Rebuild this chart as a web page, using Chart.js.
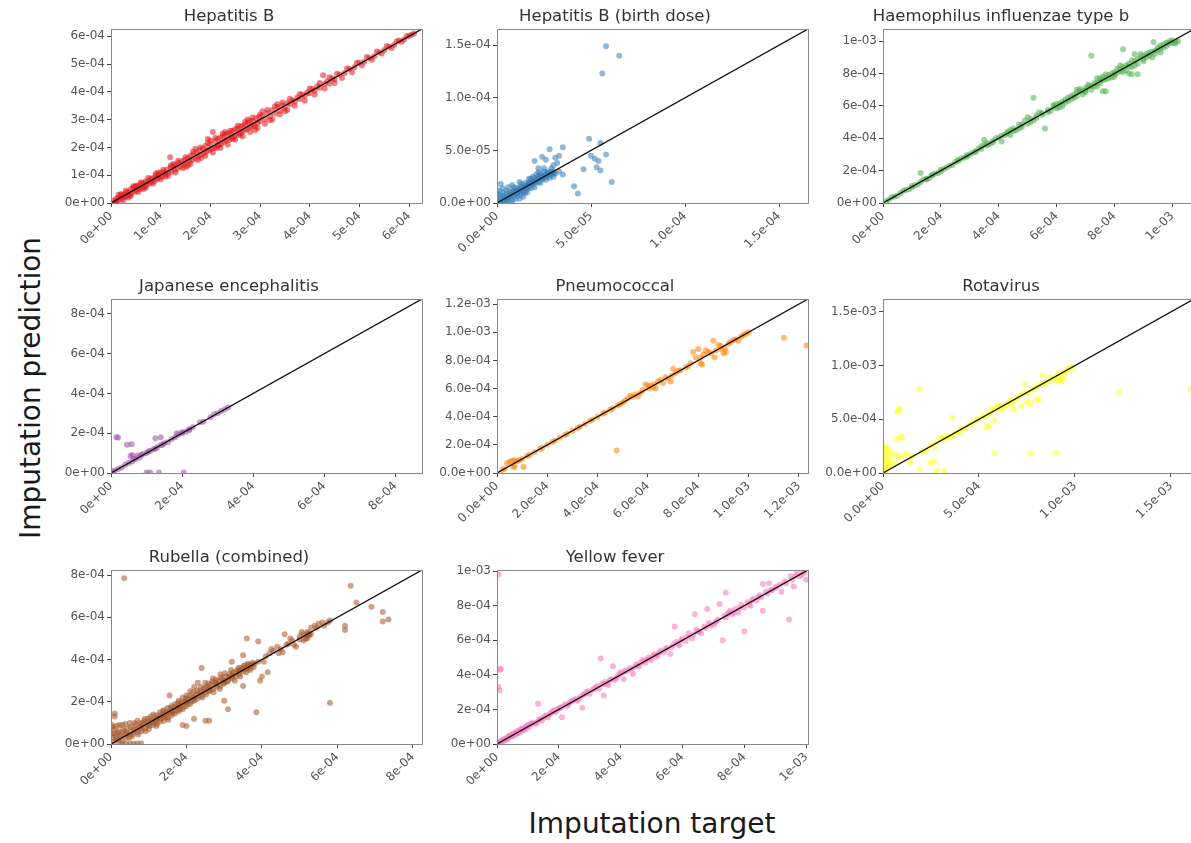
<!DOCTYPE html>
<html>
<head>
<meta charset="utf-8">
<script src="https://cdn.jsdelivr.net/npm/chart.js@4/dist/chart.umd.min.js"></script>
<style>
html, body { margin: 0; padding: 0; background: #fff; width: 1191px; height: 843px; overflow: hidden; }
body { position: relative; font-family: 'DejaVu Sans', sans-serif; }
canvas { position: absolute; }
.lbl { position: absolute; font-size: 28px; color: #1a1a1a; white-space: nowrap; transform: translate(-50%, -50%); }
#ylab { left: 30px; top: 388px; transform: translate(-50%, -50%) rotate(-90deg); }
#xlab { left: 652px; top: 823px; }
</style>
</head>
<body>
<div id="ylab" class="lbl">Imputation prediction</div>
<div id="xlab" class="lbl">Imputation target</div>
<script>
// every value below is in units of 1e-4 as [target, prediction]
const UNIT = 1e-4;

const hepBPoints = [
  [0.05,0.08],[0.08,0.02],[0.1,0.15],[0.12,0.05],[0.15,0.2],[0.18,0.12],[0.2,0.28],[0.22,0.16],[0.25,0.3],[0.28,0.22],
  [0.3,0.38],[0.32,0.25],[0.35,0.4],[0.38,0.3],[0.4,0.5],[0.42,0.36],[0.45,0.55],[0.48,0.42],[0.5,0.58],[0.52,0.45],
  [0.55,0.62],[0.58,0.5],[0.6,0.68],[0.62,0.55],[0.65,0.72],[0.68,0.6],[0.7,0.78],[0.72,0.65],[0.75,0.8],[0.78,0.7],
  [0.8,0.88],[0.82,0.76],[0.85,0.9],[0.88,0.8],[0.9,0.98],[0.93,0.86],[0.95,1.02],[0.98,0.92],[1.0,1.08],[1.03,0.95],
  [1.06,1.12],[1.1,1.02],[1.12,1.2],[1.15,1.08],[1.19,1.65],[1.2,1.28],[1.22,1.12],[1.25,1.32],[1.28,1.2],[1.3,1.38],
  [1.33,1.25],[1.36,1.45],[1.4,1.3],[1.42,1.5],[1.45,1.38],[1.48,1.55],[1.5,1.42],[1.52,1.3],[1.55,1.62],[1.58,1.5],
  [1.6,1.7],[1.63,1.55],[1.66,1.75],[1.7,1.6],[1.72,1.82],[1.75,1.68],[1.78,1.9],[1.8,1.72],[1.82,1.62],[1.85,1.95],
  [1.88,1.8],[1.9,2.05],[1.92,1.85],[1.95,2.3],[1.98,1.9],[2.0,2.12],[2.02,1.95],[2.05,2.55],[2.08,2.0],[2.1,2.22],
  [2.12,1.98],[2.15,2.3],[2.18,2.1],[2.2,2.35],[2.22,2.12],[2.25,2.4],[2.28,2.2],[2.3,2.45],[2.32,2.25],[2.35,2.5],
  [2.38,2.28],[2.4,2.52],[2.42,2.35],[2.45,2.6],[2.48,2.4],[2.5,2.65],[2.52,2.45],[2.55,2.68],[2.58,2.5],[2.6,2.75],
  [2.62,2.55],[2.65,2.78],[2.68,2.6],[2.7,2.82],[2.72,2.65],[2.75,2.9],[2.78,2.7],[2.8,2.95],[2.82,2.75],[2.85,2.95],
  [2.88,2.8],[2.9,2.62],[2.92,3.05],[2.95,2.88],[2.98,3.1],[3.0,2.95],[3.05,3.15],[3.1,3.02],[3.15,3.25],[3.2,3.12],
  [3.25,3.35],[3.3,3.22],[3.35,3.45],[3.4,3.32],[3.45,3.52],[3.5,3.42],[3.55,3.6],[3.6,3.55],[3.65,3.7],[3.7,3.65],
  [3.75,3.8],[3.8,3.74],[3.85,3.9],[3.9,3.85],[3.95,3.98],[4.0,3.95],[4.05,4.1],[4.1,4.05],[4.15,4.2],[4.2,4.15],
  [4.27,4.6],[4.3,4.28],[4.35,4.38],[4.4,4.3],[4.45,4.48],[4.5,4.45],[4.6,4.62],[4.7,4.68],[4.8,4.82],[4.9,4.88],
  [5.0,5.05],[5.1,5.08],[5.2,5.22],[5.3,5.28],[5.4,5.42],[5.5,5.5],[5.6,5.62],[5.7,5.68],[5.8,5.85],[5.9,5.88],
  [6.0,6.02],[6.1,6.1],
  [0.1,0.0],[0.15,0.3],[0.25,0.1],[0.3,0.45],[0.4,0.25],[0.45,0.6],[0.55,0.4],[0.6,0.75],[0.7,0.55],[0.75,0.9],
  [0.85,0.7],[0.9,1.05],[1.0,0.85],[1.05,1.2],[1.15,0.98],[1.2,1.35],[1.3,1.1],[1.35,1.52],[1.45,1.25],[1.5,1.65],
  [1.6,1.4],[1.65,1.85],[1.75,1.55],[1.8,2.0],[1.9,1.7],[1.95,2.15],[2.05,1.82],[2.1,2.35],[2.2,1.98],[2.25,2.5],
  [2.35,2.1],[2.4,2.6],[2.5,2.28],[2.55,2.78],[2.65,2.4],[2.7,2.92],[2.8,2.55],[2.85,3.08],[2.95,2.7],[3.0,3.18],
  [3.1,2.85],[3.15,3.35],[3.25,3.0],[3.3,3.48],[3.4,3.18],[3.45,3.62],[3.55,3.35],[3.6,3.75],[3.7,3.5],[3.8,3.92],
  [3.9,3.68],[4.0,4.12],[4.1,3.9],[4.2,4.32],[4.3,4.12],[4.4,4.52],[4.5,4.32],[4.55,4.65],[4.65,4.5],[4.75,4.85],
  [4.85,4.7],[4.95,5.05],[5.05,4.95],[5.15,5.25],[5.25,5.15],[5.35,5.45],[5.45,5.38],[5.55,5.65],[5.65,5.58],[5.75,5.82],
  [5.85,5.8],[5.95,6.0],[6.05,6.05],[2.0,2.25],[2.15,2.05],[2.3,2.55],[2.45,2.3],[1.7,1.95],[1.55,1.35],[2.6,2.45],
  [2.75,3.0],[2.9,2.75],[3.05,3.3],[3.2,2.98],[3.35,3.55],[3.5,3.3],[1.25,1.4],[1.1,0.95],[0.95,1.1],[0.65,0.5],
  [0.5,0.62],[0.35,0.2],[0.2,0.32]
];

const hepBBirthPoints = [
  [0.01,0.02],[0.01,0.08],[0.01,0.12],[0.02,0.05],[0.02,0.0],[0.03,0.03],[0.03,0.1],[0.04,0.06],[0.04,0.01],[0.05,0.04],
  [0.05,0.09],[0.06,0.07],[0.06,0.02],[0.07,0.1],[0.07,0.05],[0.08,0.08],[0.08,0.03],[0.09,0.12],[0.09,0.06],[0.1,0.09],
  [0.1,0.14],[0.1,0.04],[0.11,0.11],[0.11,0.07],[0.12,0.15],[0.12,0.1],[0.13,0.12],[0.13,0.08],[0.14,0.16],[0.14,0.11],
  [0.15,0.14],[0.15,0.19],[0.15,0.1],[0.16,0.17],[0.16,0.13],[0.17,0.2],[0.17,0.15],[0.18,0.18],[0.18,0.23],[0.18,0.14],
  [0.19,0.21],[0.19,0.17],[0.2,0.24],[0.2,0.19],[0.2,0.15],[0.21,0.22],[0.21,0.27],[0.22,0.2],[0.22,0.25],[0.23,0.23],
  [0.23,0.28],[0.23,0.19],[0.24,0.26],[0.24,0.22],[0.25,0.3],[0.25,0.24],[0.26,0.27],[0.26,0.22],[0.27,0.26],[0.28,0.29],
  [0.28,0.24],[0.29,0.27],[0.3,0.25],[0.31,0.28],[0.06,0.15],[0.08,0.17],[0.12,0.2],[0.03,0.14],[0.02,0.18],
  [0.2,0.4],[0.22,0.33],[0.24,0.44],[0.26,0.41],[0.28,0.51],[0.3,0.36],[0.3,0.28],[0.27,0.3],[0.31,0.43],[0.32,0.38],
  [0.33,0.45],[0.35,0.53],[0.41,0.16],[0.43,0.09],[0.46,0.32],[0.49,0.61],[0.5,0.45],[0.52,0.42],[0.53,0.34],[0.54,0.4],
  [0.55,0.31],[0.55,0.57],[0.58,0.46],[0.61,0.2],[0.56,1.23],[0.58,1.49],[0.65,1.4],
  [0.0,0.06],[0.0,0.1],[0.02,0.02],[0.03,0.07],[0.04,0.03],[0.05,0.01],[0.06,0.05],[0.07,0.08],[0.08,0.11],[0.09,0.09],
  [0.1,0.12],[0.11,0.09],[0.12,0.13],[0.13,0.15],[0.14,0.13],[0.15,0.16],[0.16,0.15],[0.17,0.18],[0.18,0.2],[0.19,0.19],
  [0.2,0.21],[0.21,0.2],[0.22,0.23],[0.23,0.25],[0.24,0.24],[0.25,0.26],[0.26,0.25],[0.27,0.28],[0.28,0.27],[0.29,0.3],
  [0.3,0.3],[0.08,0.0],[0.12,0.04],[0.14,0.06],[0.16,0.1],[0.05,0.12],[0.09,0.15],[0.13,0.18],[0.17,0.23],[0.19,0.25],
  [0.22,0.29],[0.25,0.33],[0.29,0.33],[0.33,0.3],[0.35,0.27]
];

const hibPoints = [
  [0.1,0.1],[0.2,0.2],[0.3,0.35],[0.5,0.45],[0.7,0.75],[0.9,0.85],[1.0,1.05],[1.0,0.95],[1.2,1.15],[1.3,1.85],
  [1.4,1.45],[1.5,1.5],[1.6,1.55],[1.7,1.75],[1.8,1.8],[1.9,1.85],[2.0,2.05],[2.0,1.95],[2.2,2.2],[2.4,2.35],
  [2.5,2.55],[2.6,2.6],[2.7,2.75],[2.8,2.8],[2.9,2.85],[3.0,3.0],[3.1,3.1],[3.2,3.2],[3.3,3.35],[3.4,3.35],
  [3.5,3.6],[3.5,3.9],[3.6,3.7],[3.7,3.65],[3.8,3.85],[3.9,4.0],[4.0,4.05],[4.1,3.8],[4.2,4.2],[4.3,4.4],
  [4.4,4.5],[4.4,4.2],[4.5,4.6],[4.6,4.5],[4.7,4.85],[4.7,4.6],[4.8,4.7],[4.9,5.1],[5.0,4.9],[5.0,5.3],
  [5.1,5.2],[5.2,6.5],[5.2,5.1],[5.3,5.4],[5.4,5.6],[5.5,5.55],[5.6,4.6],[5.7,5.75],[5.8,5.7],[5.9,5.95],
  [6.0,6.1],[6.0,5.85],[6.1,5.9],[6.2,6.25],[6.3,6.4],[6.4,6.3],[6.5,6.6],[6.6,6.5],[6.7,6.8],[6.7,7.0],
  [6.8,6.9],[6.9,6.7],[7.0,7.1],[7.0,6.85],[7.1,7.2],[7.2,9.1],[7.2,7.0],[7.3,7.4],[7.4,7.2],[7.4,7.7],
  [7.5,7.7],[7.5,7.55],[7.6,6.9],[7.7,6.9],[7.6,7.8],[7.7,7.65],[7.8,7.9],[7.9,7.75],[8.0,8.1],[8.0,7.95],
  [8.1,8.3],[8.2,8.15],[8.2,8.5],[8.3,9.5],[8.3,8.4],[8.4,8.2],[8.5,8.6],[8.5,8.0],[8.6,8.8],[8.7,8.5],
  [8.7,9.2],[8.8,8.9],[8.9,9.0],[9.0,9.1],[9.0,8.75],[9.1,9.2],[9.2,9.3],[9.3,9.0],[9.35,9.95],[9.4,9.4],
  [9.5,9.6],[9.6,9.3],[9.6,9.75],[9.7,9.8],[9.8,9.9],[9.9,10.0],[10.0,9.9],[10.1,9.85],[10.2,10.0],
  [0.4,0.4],[0.6,0.6],[0.8,0.8],[1.1,1.1],[1.3,1.3],[1.5,1.45],[1.7,1.7],[2.1,2.1],[2.3,2.3],[2.6,2.65],
  [2.9,2.95],[3.2,3.15],[3.4,3.5],[3.6,3.55],[3.8,3.75],[4.1,4.15],[4.3,4.3],[4.5,4.45],[4.8,4.85],[5.1,5.0],
  [5.3,5.25],[5.5,5.45],[5.7,5.6],[5.9,6.05],[6.1,6.15],[6.2,6.0],[6.3,6.2],[6.4,6.5],[6.5,6.4],[6.6,6.7],
  [6.7,6.6],[6.8,7.05],[6.9,6.95],[7.0,6.95],[7.1,7.3],[7.2,7.25],[7.3,7.2],[7.4,7.45],[7.5,7.4],[7.6,7.6],
  [7.7,7.95],[7.8,7.7],[7.9,8.0],[8.0,7.8],[8.1,8.05],[8.2,8.3],[8.3,8.1],[8.4,8.5],[8.5,8.45],[8.6,8.4],
  [8.7,8.75],[8.8,8.6],[8.9,9.2],[9.0,8.9],[9.1,9.0],[9.2,9.1],[9.3,9.35],[9.4,9.2],[9.5,9.45],[9.6,9.55],
  [9.7,9.6],[9.8,9.7],[9.9,9.85],[10.0,10.05],[10.1,9.95],[8.6,7.95],[8.8,7.95]
];

const jePoints = [
  [0.05,0.05],[0.1,0.12],[0.2,0.2],[0.3,0.28],[0.4,0.42],[0.5,0.5],[0.6,0.58],[0.65,0.7],[0.7,0.72],[0.8,0.78],
  [0.85,0.9],[0.9,0.95],[1.0,1.0],[1.05,1.08],[1.1,1.12],[1.2,1.2],[1.25,1.22],[1.3,1.3],[1.4,1.4],[1.45,1.42],
  [1.5,1.5],[1.6,1.55],[1.7,1.7],[1.8,1.8],[1.9,1.92],[2.0,2.0],[2.1,2.08],[2.2,2.2],[2.3,2.3],[2.5,2.55],
  [2.6,2.58],[2.8,2.8],[2.9,2.95],[3.0,3.0],[3.1,3.12],[3.2,3.2],[3.3,3.3],
  [0.15,1.8],[0.2,1.78],[0.45,1.42],[0.58,1.45],[0.55,0.85],[0.6,0.9],[0.75,0.88],[1.25,1.75],[1.4,1.8],
  [1.0,0.02],[1.1,0.02],[1.35,0.02],[2.05,0.02],[1.85,2.0],[2.0,2.05],[2.2,2.15]
];

const pneumoPoints = [
  [0.2,0.2],[0.3,0.3],[0.4,0.7],[0.5,0.8],[0.6,0.85],[0.65,0.4],[0.7,0.9],[0.7,0.5],[0.8,0.85],[0.9,0.9],
  [1.0,1.0],[1.05,0.45],[1.2,1.2],[1.5,1.5],[1.8,1.8],[2.0,2.0],[2.2,2.2],[2.5,2.5],[2.8,2.8],[3.0,3.0],
  [3.3,3.3],[3.5,3.5],[3.8,3.8],[4.0,4.0],[4.2,4.2],[4.5,4.5],[4.6,4.6],[4.75,1.6],[4.8,4.8],[5.0,5.0],
  [5.2,5.3],[5.3,5.5],[5.4,5.4],[5.5,5.6],[5.6,5.45],[5.7,5.7],[5.9,6.3],[6.0,6.2],[6.1,6.2],[6.2,6.1],
  [6.3,6.0],[6.4,6.5],[6.5,6.6],[6.6,6.4],[6.7,6.8],[6.8,6.7],[6.9,6.5],[6.95,6.9],[7.0,7.4],[7.3,7.3],
  [7.5,7.5],[7.7,7.8],[7.8,8.6],[7.9,8.2],[8.0,8.8],[8.1,7.8],[8.1,8.2],[8.15,7.7],[8.2,8.4],[8.3,8.7],
  [8.4,8.6],[8.6,9.4],[8.65,8.2],[8.7,8.7],[8.8,9.1],[8.9,8.8],[9.0,8.5],[9.05,8.9],[9.1,8.6],[9.2,9.2],
  [9.3,9.3],[9.5,9.5],[9.6,9.4],[9.7,9.7],[9.9,9.9],[10.0,10.0],[11.4,9.6],[12.3,9.05],
  [1.3,1.3],[1.7,1.7],[2.3,2.3],[2.7,2.7],[3.2,3.2],[3.7,3.7],[4.3,4.3],[4.9,4.9],[5.1,5.15],[5.8,5.9],
  [6.05,6.0],[6.25,6.3],[7.1,7.1],[7.2,7.25],[7.6,7.6],[8.5,8.5],[8.9,9.0],[9.4,9.45],[9.8,9.8]
];

const rotaPoints = [
  [0.05,0.5],[0.05,1.0],[0.1,1.5],[0.1,2.0],[0.15,2.3],[0.2,1.2],[0.2,0.8],[0.25,1.8],[0.3,1.4],[0.05,2.4],
  [0.1,0.3],[0.3,0.6],[0.4,1.0],[0.5,0.8],[0.6,1.7],[0.8,1.6],[1.0,1.5],[1.2,1.8],[1.5,1.6],[0.7,0.9],
  [0.35,2.1],[0.15,0.1],[0.75,5.7],[0.8,5.8],[0.85,6.0],[0.7,3.2],[0.9,3.3],[1.0,3.35],[1.9,7.8],[3.6,5.15],
  [1.4,1.0],[2.5,1.0],[2.7,1.05],[2.8,0.2],[3.2,0.2],[1.9,0.3],[5.8,1.85],[7.7,1.8],[9.0,1.9],[12.3,7.5],
  [16.0,7.8],[5.5,4.3],[5.8,4.9],[6.8,5.9],[7.5,6.6],[7.2,6.2],[7.4,8.3],[8.3,9.1],[8.0,6.8],[7.7,6.5],
  [9.2,8.7],[9.4,8.8],[1.5,1.5],[2.0,2.0],[2.2,2.1],[2.3,2.2],[2.5,2.6],[2.7,2.4],[2.8,2.9],[3.0,3.2],
  [3.1,3.3],[3.2,3.1],[3.3,3.5],[3.5,3.4],[3.8,3.7],[4.0,4.0],[4.3,4.2],[4.5,4.6],[4.8,4.8],[5.0,5.0],
  [5.2,5.3],[5.5,5.5],[5.8,5.9],[6.0,6.0],[6.0,6.3],[6.2,6.1],[6.3,6.2],[6.5,6.5],[6.7,6.8],[7.0,7.0],
  [7.2,7.3],[7.5,7.5],[7.8,7.8],[8.0,8.0],[8.3,8.2],[8.5,8.5],[8.7,8.9],[8.8,8.7],[9.0,9.0],[9.1,8.6],
  [9.2,9.3],[9.3,8.9],[9.5,9.4],[9.7,9.6],[9.9,9.8],
  [3.4,3.3],[3.7,3.6],[4.1,4.2],[4.6,4.5],[4.9,5.0],[5.3,5.2],[5.6,5.7],[6.1,6.2],[6.4,6.3],[6.6,6.7],
  [6.9,6.8],[7.1,7.2],[7.3,7.4],[7.6,7.5],[7.9,7.8],[8.1,8.2],[8.4,8.4],[8.6,8.5],[8.9,8.8],[9.1,9.2],
  [9.4,9.3],[9.6,9.7],[9.8,9.9],[5.7,6.0],[6.2,5.9],[6.7,6.4],[8.1,6.9],[9.3,8.5],[0.05,0.2],[0.1,1.2],
  [0.15,1.8],[0.2,2.4],[0.1,0.8],[0.25,0.5],[4.0,3.8],[5.4,4.3]
];

const rubellaPoints = [
  [0.05,0.3],[0.05,0.8],[0.1,0.5],[0.1,1.3],[0.1,1.45],[0.15,0.85],[0.15,0.2],[0.2,0.6],[0.2,0.02],[0.2,0.25],
  [0.25,0.4],[0.3,0.9],[0.3,0.15],[0.35,0.6],[0.4,0.3],[0.4,0.02],[0.4,0.45],[0.45,0.75],[0.5,0.5],[0.5,1.0],
  [0.55,0.35],[0.6,0.7],[0.6,0.02],[0.6,0.6],[0.65,0.9],[0.7,0.55],[0.7,1.1],[0.75,0.8],[0.8,0.6],[0.8,0.02],
  [0.8,0.85],[0.85,1.0],[0.9,0.75],[0.9,1.2],[0.95,0.9],[1.0,1.05],[1.0,0.7],[1.0,0.95],[1.05,1.3],[1.1,0.9],
  [1.1,1.15],[1.15,1.0],[1.2,1.35],[1.2,0.85],[1.2,1.2],[1.25,1.2],[1.3,1.05],[1.3,1.5],[1.35,1.3],[1.4,1.1],
  [1.4,1.6],[1.4,1.4],[1.45,1.4],[1.5,1.25],[1.5,1.7],[1.55,2.3],[1.55,1.5],[1.6,1.35],[1.6,1.8],[1.6,1.6],
  [1.65,1.6],[1.7,1.45],[1.7,1.9],[1.75,1.7],[1.8,1.55],[1.8,2.05],[1.8,1.8],[1.85,1.8],[1.9,0.9],[1.9,1.65],
  [1.9,2.2],[1.95,1.95],[2.0,0.85],[2.0,1.8],[2.0,2.3],[2.0,2.0],[2.05,2.1],[2.1,1.9],[2.1,2.5],[2.15,2.2],
  [2.2,1.2],[2.2,2.05],[2.2,2.7],[2.2,2.2],[2.25,2.35],[2.3,2.15],[2.3,2.9],[2.35,2.5],[2.4,3.6],[2.4,2.3],
  [2.4,2.45],[2.45,2.6],[2.5,1.1],[2.5,2.45],[2.5,2.9],[2.55,2.7],[2.6,1.1],[2.6,2.5],[2.6,2.65],[2.65,2.8],
  [2.7,2.6],[2.7,3.1],[2.75,2.9],[2.8,2.7],[2.8,2.85],[2.85,3.0],[2.9,3.3],[2.9,2.75],[2.95,3.05],[3.0,2.05],
  [3.0,2.9],[3.0,3.0],[3.05,3.2],[3.1,1.65],[3.1,3.0],[3.15,3.3],[3.2,3.9],[3.2,3.1],[3.2,3.25],[3.25,3.4],
  [3.3,3.2],[3.35,3.5],[3.4,3.3],[3.4,3.45],[3.45,3.6],[3.5,4.2],[3.5,2.75],[3.5,3.45],[3.55,3.7],[3.6,5.0],
  [3.6,3.55],[3.6,3.6],[3.65,3.75],[3.7,3.6],[3.75,3.85],[3.8,3.8],[3.85,1.5],[3.9,4.85],[3.9,3.9],[3.95,3.0],
  [4.0,3.2],[4.1,4.15],[4.15,3.4],[4.2,4.3],[4.3,4.4],[4.4,4.6],[4.5,4.5],[4.55,4.35],[4.6,5.2],[4.65,4.7],
  [4.7,4.75],[4.8,4.9],[4.9,4.6],[5.0,5.1],[5.0,4.95],[5.1,5.2],[5.15,5.0],[5.2,5.3],[5.2,5.1],[5.25,5.25],
  [5.3,5.5],[5.4,5.6],[5.5,5.7],[5.6,5.75],[5.8,1.95],[5.8,5.85],[6.2,5.4],[6.2,5.6],[6.35,7.5],[6.5,6.7],
  [6.9,6.5],[7.2,6.25],[7.2,5.8],[7.35,5.9],[0.35,7.85],
  [0.02,0.5],[0.03,0.9],[0.05,0.1],[0.08,0.7],[0.12,0.35],[0.18,0.55],[0.22,0.9],[0.28,0.45],[0.32,0.7],[0.38,0.95],
  [0.42,0.55],[0.48,0.3],[0.52,0.8],[0.58,0.45],[0.62,1.0],[0.68,0.7],[0.72,0.45],[0.78,1.0],[0.82,0.7],[0.88,1.1],
  [0.92,0.6],[0.98,1.2],[1.02,0.85],[1.08,1.05],[1.12,1.4],[1.18,1.1],[1.22,0.95],[1.28,1.35],[1.32,1.2],[1.38,1.55],
  [1.42,1.25],[1.48,1.5],[1.52,1.15],[1.58,1.7],[1.62,1.45],[1.68,1.75],[1.72,1.55],[1.78,1.95],[1.82,1.65],[1.88,2.0],
  [1.92,1.75],[1.98,2.15],[2.02,1.9],[2.08,2.3],[2.12,2.0],[2.18,2.45],[2.22,2.1],[2.28,2.55],[2.32,2.3],[2.38,2.7],
  [2.42,2.2],[2.48,2.65],[2.52,2.35],[2.58,2.85],[2.62,2.55],[2.68,2.95],[2.72,2.45],[2.78,3.05],[2.82,2.8],[2.88,2.6],
  [2.92,3.15],[2.98,2.85],[3.02,3.35],[3.08,2.95],[3.12,3.15],[3.18,3.5],[3.22,3.2],[3.28,3.0],[3.32,3.4],[3.38,3.6],
  [3.42,3.2],[3.48,3.55],[3.52,3.7],[3.58,3.4],[3.62,3.8],[3.68,3.5],[3.72,3.75],[3.78,3.65],[0.5,0.02],[0.7,0.02],
  [0.3,0.02],[4.05,3.9],[4.25,4.5],[4.45,4.3],[4.75,5.0],[4.85,4.7],[5.05,5.3],[5.1,4.9],[5.2,5.0],[5.25,5.15],
  [5.3,5.2],[5.2,5.2],[5.45,5.5],[5.65,5.6],[5.75,5.75]
];

const yellowFeverPoints = [
  [0.05,0.05],[0.1,0.15],[0.15,0.1],[0.2,0.25],[0.25,0.2],[0.3,0.35],[0.35,0.3],[0.4,0.45],[0.45,0.4],[0.5,0.55],
  [0.55,0.5],[0.6,0.65],[0.65,0.6],[0.7,0.8],[0.75,0.7],[0.8,0.85],[0.85,0.8],[0.9,0.95],[0.95,0.9],[1.0,1.1],
  [1.05,1.0],[1.1,1.15],[1.2,1.2],[1.3,1.25],[1.33,2.33],[1.4,1.45],[1.5,1.5],[1.6,1.65],[1.7,1.7],[1.8,1.9],
  [1.9,1.85],[2.0,2.05],[2.1,1.55],[2.1,2.15],[2.2,2.3],[2.3,2.25],[2.4,2.45],[2.5,2.55],[2.6,2.5],[2.7,2.75],
  [2.76,2.1],[2.8,2.85],[2.9,3.0],[3.0,2.9],[3.1,3.15],[3.2,3.3],[3.3,3.2],[3.35,4.95],[3.4,3.5],[3.45,2.8],
  [3.5,3.6],[3.6,3.4],[3.7,3.75],[3.75,4.5],[3.8,3.7],[3.9,3.9],[4.0,4.15],[4.1,3.75],[4.2,4.2],[4.3,4.4],
  [4.4,4.05],[4.5,4.6],[4.6,4.5],[4.7,4.85],[4.8,4.7],[4.9,5.0],[5.0,4.85],[5.1,5.2],[5.2,5.15],[5.3,5.4],
  [5.4,5.3],[5.5,5.55],[5.6,5.2],[5.7,5.75],[5.75,6.8],[5.8,5.9],[5.9,5.7],[6.0,6.1],[6.1,5.95],[6.2,6.4],
  [6.3,6.1],[6.4,7.5],[6.5,6.5],[6.6,6.4],[6.7,6.8],[6.8,7.8],[6.9,6.85],[7.0,6.9],[7.1,7.1],[7.2,8.1],
  [7.3,6.0],[7.4,8.75],[7.4,7.3],[7.5,7.6],[7.6,7.5],[7.7,7.8],[7.8,7.6],[7.9,8.05],[8.0,6.5],[8.0,7.9],
  [8.1,8.2],[8.2,8.0],[8.3,8.4],[8.4,8.3],[8.5,8.6],[8.6,9.25],[8.6,7.7],[8.7,8.8],[8.8,9.3],[8.9,8.9],
  [9.0,9.0],[9.2,8.8],[9.3,9.4],[9.45,7.2],[9.5,9.7],[9.6,9.1],[9.7,9.9],[9.8,9.7],[9.9,10.0],[10.0,9.5],
  [0.05,9.8],[0.1,4.3],[0.12,4.35],[0.05,3.3],[0.08,3.1],
  [0.02,0.0],[0.08,0.1],[0.12,0.05],[0.18,0.2],[0.22,0.28],[0.28,0.25],[0.32,0.3],[0.38,0.42],[0.42,0.5],[0.48,0.45],
  [0.52,0.6],[0.58,0.55],[0.62,0.7],[0.68,0.65],[0.72,0.75],[0.78,0.85],[0.82,0.9],[0.88,0.85],[0.92,1.0],[0.98,1.05],
  [1.15,1.25],[1.25,1.15],[1.35,1.4],[1.45,1.35],[1.55,1.6],[1.65,1.55],[1.75,1.8],[1.85,1.95],[1.95,2.0],[2.05,2.1],
  [2.25,2.2],[2.35,2.4],[2.45,2.5],[2.55,2.6],[2.65,2.6],[2.85,2.9],[2.95,3.05],[3.15,3.2],[3.25,3.35],[3.45,3.45],
  [3.55,3.5],[3.65,3.7],[3.85,3.8],[3.95,4.0],[4.05,4.1],[4.15,4.25],[4.35,4.3],[4.45,4.45],[4.55,4.55],[4.65,4.7],
  [4.75,4.8],[4.85,4.9],[4.95,4.95],[5.05,5.1],[5.15,5.05],[5.25,5.3],[5.45,5.5],[5.65,5.6],[5.85,5.8],[5.95,6.0],
  [6.15,6.2],[6.35,6.3],[6.45,6.6],[6.55,6.5],[6.75,6.7],[6.85,7.0],[7.05,7.0],[7.15,7.2],[7.35,7.4],[7.45,7.5],
  [7.55,7.7],[7.65,7.6],[7.85,7.85],[8.15,8.1],[8.25,8.3],[8.45,8.5],[8.55,8.5],[8.75,8.7],[8.85,8.9],[9.05,9.1],
  [9.15,9.2],[9.35,9.3],[9.55,9.5],[9.65,9.7],[9.85,9.8],[9.95,9.9]
];

// tick positions (same on both axes of a panel), also in units of 1e-4
const ticksHepB = [0, 1, 2, 3, 4, 5, 6];
const ticksBirth = [0, 0.5, 1, 1.5];
const ticksHib = [0, 2, 4, 6, 8, 10];
const ticksJE = [0, 2, 4, 6, 8];
const ticksPneumo = [0, 2, 4, 6, 8, 10, 12];
const ticksRota = [0, 5, 10, 15];
const ticksRubella = [0, 2, 4, 6, 8];
const ticksYF = [0, 2, 4, 6, 8, 10];

const panels = [
  { title: 'Hepatitis B', pts: hepBPoints, ticks: ticksHepB, max: 6.26, digits: 0, color: 'rgba(228,26,28,0.55)', col: 0, row: 0 },
  { title: 'Hepatitis B (birth dose)', pts: hepBBirthPoints, ticks: ticksBirth, max: 1.654, digits: 1, color: 'rgba(55,126,184,0.55)', col: 1, row: 0 },
  { title: 'Haemophilus influenzae type b', pts: hibPoints, ticks: ticksHib, max: 10.75, digits: 0, color: 'rgba(77,175,74,0.55)', col: 2, row: 0 },
  { title: 'Japanese encephalitis', pts: jePoints, ticks: ticksJE, max: 8.75, digits: 0, color: 'rgba(152,78,163,0.55)', col: 0, row: 1 },
  { title: 'Pneumococcal', pts: pneumoPoints, ticks: ticksPneumo, max: 12.36, digits: 1, color: 'rgba(255,127,0,0.55)', col: 1, row: 1 },
  { title: 'Rotavirus', pts: rotaPoints, ticks: ticksRota, max: 16.2, digits: 1, color: 'rgba(255,255,51,0.6)', col: 2, row: 1 },
  { title: 'Rubella (combined)', pts: rubellaPoints, ticks: ticksRubella, max: 8.24, digits: 0, color: 'rgba(166,86,40,0.55)', col: 0, row: 2 },
  { title: 'Yellow fever', pts: yellowFeverPoints, ticks: ticksYF, max: 10.06, digits: 0, color: 'rgba(247,129,191,0.6)', col: 1, row: 2 }
];

// layout of the grid
const colLeft = [111, 497, 883];
const rowTop = [29, 299, 570];
const PLOT_W = 311, PLOT_H = 174;
const Y_AXIS_W = 75, X_AXIS_H = 80, TITLE_H = 22, RIGHT_PAD = 20;

const tickFont = { family: 'DejaVu Sans', size: 12 };

function fmt(v, digits) {
  const s = (v * UNIT).toExponential(digits);
  return s.replace(/e([+-])(\d)$/, (m, sign, d) => 'e' + sign + '0' + d);
}

// matplotlib style box around the plot area
const framePlugin = {
  id: 'frame',
  afterDraw(chart) {
    const { ctx, chartArea: a } = chart;
    ctx.save();
    ctx.strokeStyle = '#888';
    ctx.lineWidth = 1;
    ctx.strokeRect(Math.round(a.left) + 0.5, Math.round(a.top) + 0.5,
      Math.round(a.right - a.left), Math.round(a.bottom - a.top));
    ctx.restore();
  }
};

function axisOptions(p, isX) {
  return {
    type: 'linear',
    min: 0,
    max: p.max,
    afterBuildTicks: axis => { axis.ticks = p.ticks.map(v => ({ value: v })); },
    afterFit: scale => {
      if (isX) scale.height = X_AXIS_H; else scale.width = Y_AXIS_W;
    },
    ticks: {
      autoSkip: false,
      maxRotation: isX ? 45 : 0,
      minRotation: isX ? 45 : 0,
      font: tickFont,
      color: '#555',
      padding: 2,
      callback: v => fmt(v, p.digits)
    },
    grid: { drawOnChartArea: false, drawTicks: true, tickLength: 4, color: '#444' },
    border: { display: false }
  };
}

panels.forEach(p => {
  const canvas = document.createElement('canvas');
  const w = Y_AXIS_W + PLOT_W + RIGHT_PAD;
  const h = TITLE_H + PLOT_H + X_AXIS_H;
  canvas.width = w;
  canvas.height = h;
  canvas.style.width = w + 'px';
  canvas.style.height = h + 'px';
  canvas.style.left = (colLeft[p.col] - Y_AXIS_W) + 'px';
  canvas.style.top = (rowTop[p.row] - TITLE_H) + 'px';
  document.body.appendChild(canvas);

  new Chart(canvas, {
    type: 'scatter',
    data: {
      datasets: [
        {
          type: 'line',
          data: [{ x: 0, y: 0 }, { x: p.max, y: p.max }],
          borderColor: '#111',
          borderWidth: 1.3,
          pointRadius: 0,
          showLine: true
        },
        {
          data: p.pts.map(([x, y]) => ({ x, y })),
          backgroundColor: p.color,
          borderWidth: 0,
          pointRadius: 3
        }
      ]
    },
    options: {
      responsive: false,
      devicePixelRatio: 1,
      animation: false,
      layout: { padding: { left: 0, right: RIGHT_PAD, top: 0, bottom: 0 } },
      plugins: {
        legend: { display: false },
        tooltip: { enabled: false },
        title: {
          display: true,
          text: p.title,
          color: '#333',
          font: { family: 'DejaVu Sans', size: 16.5, weight: 'normal' },
          padding: { top: 0, bottom: 2.2 }
        }
      },
      scales: {
        x: axisOptions(p, true),
        y: axisOptions(p, false)
      }
    },
    plugins: [framePlugin]
  });
});
</script>
</body>
</html>
